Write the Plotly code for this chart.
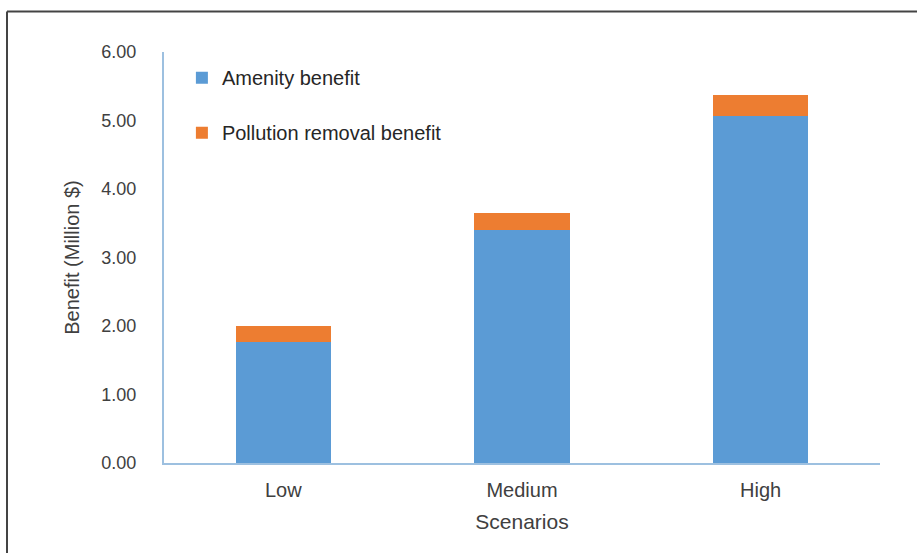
import plotly.graph_objects as go

scenarios = ["Low", "Medium", "High"]
amenity = [1.77, 3.40, 5.06]
pollution = [0.23, 0.25, 0.31]
y_ticks = [0, 1, 2, 3, 4, 5, 6]
y_tick_labels = ["0.00", "1.00", "2.00", "3.00", "4.00", "5.00", "6.00"]

font_family = "Liberation Sans, Arial, sans-serif"
text_color = "#404040"

fig = go.Figure()
fig.add_trace(go.Bar(x=scenarios, y=amenity, name="Amenity benefit",
                     marker=dict(color="#5B9BD5", line=dict(width=0)),
                     legendgroup="a"))
fig.add_trace(go.Bar(x=scenarios, y=pollution, name="Pollution removal benefit",
                     marker=dict(color="#ED7D31", line=dict(width=0)),
                     legendgroup="b"))

fig.update_layout(
    width=917, height=553,
    barmode="stack", bargap=0.6,
    plot_bgcolor="white", paper_bgcolor="white",
    margin=dict(l=164, r=37, t=52, b=90),
    font=dict(family=font_family, size=18, color=text_color),
    legend=dict(x=0.025, y=0.985, xanchor="left", yanchor="top",
                traceorder="grouped", tracegroupgap=26,
                font=dict(size=20, color="#262626"),
                bgcolor="rgba(0,0,0,0)", itemwidth=30),
    xaxis=dict(showline=True, linecolor="#9DC0E0", linewidth=2,
               ticks="", showgrid=False, ticklabelstandoff=8,
               title=dict(text="Scenarios", standoff=14,
                          font=dict(size=21, color=text_color)),
               tickfont=dict(size=20, color=text_color)),
    yaxis=dict(range=[0, 6], tickvals=y_ticks, ticktext=y_tick_labels,
               showline=True, linecolor="#9DC0E0", linewidth=2,
               showgrid=False, zeroline=False, ticks="",
               ticklabelstandoff=22,
               title=dict(text="Benefit (Million $)", standoff=16,
                          font=dict(size=20, color=text_color)),
               tickfont=dict(size=18, color=text_color)),
    shapes=[
        dict(type="line", xref="paper", yref="paper",
             x0=(7 - 164) / 716, x1=(917 - 164) / 716 + 0.01,
             y0=(553 - 90 - 11.5) / 411, y1=(553 - 90 - 11.5) / 411,
             line=dict(color="#444444", width=2)),
        dict(type="line", xref="paper", yref="paper",
             x0=(7 - 164) / 716, x1=(7 - 164) / 716,
             y0=(553 - 90 - 11.5) / 411, y1=-0.3,
             line=dict(color="#444444", width=2)),
    ],
)

fig.write_html("out.html")
